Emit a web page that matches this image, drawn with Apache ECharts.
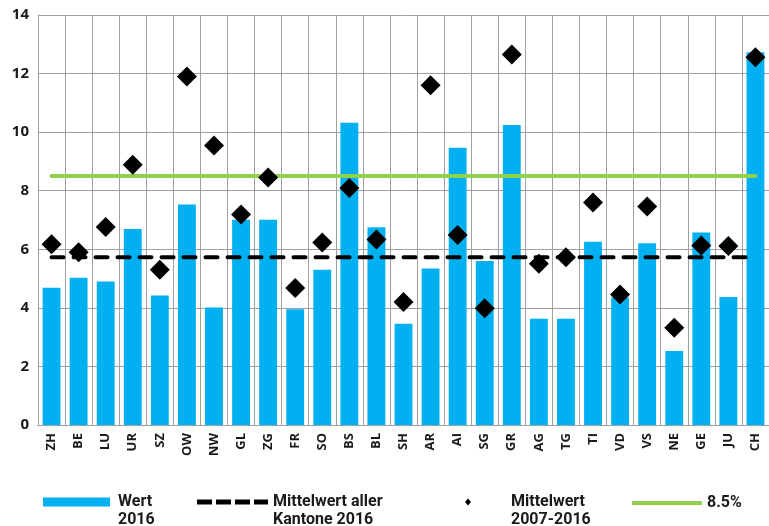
<!DOCTYPE html>
<html>
<head>
<meta charset="utf-8">
<script src="https://cdn.jsdelivr.net/npm/echarts@6/dist/echarts.min.js"></script>
<style>
html,body{margin:0;padding:0;background:#fff;}
#c{width:769px;height:526px;}
</style>
</head>
<body>
<div id="c"></div>
<script>
const categories = ['ZH','BE','LU','UR','SZ','OW','NW','GL','ZG','FR','SO','BS','BL','SH','AR','AI','SG','GR','AG','TG','TI','VD','VS','NE','GE','JU','CH'];
const wert2016 = [4.69,5.03,4.90,6.69,4.42,7.53,4.01,7.01,7.01,3.95,5.30,10.32,6.75,3.46,5.34,9.47,5.60,10.24,3.63,3.63,6.26,4.35,6.21,2.53,6.57,4.37,12.73];
const mittel2007_2016 = [6.17,5.90,6.76,8.89,5.30,11.90,9.54,7.19,8.45,4.68,6.23,8.09,6.33,4.20,11.60,6.49,3.99,12.65,5.51,5.73,7.60,4.46,7.46,3.32,6.13,6.11,12.56];
const mittelAllerKantone2016 = 5.73;
const schwelle = 8.5;
const yTicks = [0,2,4,6,8,10,12,14];

const chart = echarts.init(document.getElementById('c'), null, {renderer:'canvas'});
const legendFont = {fontFamily:'Roboto,sans-serif', fontSize:16, fontWeight:'bold', color:'#1a1a1a', lineHeight:18};
const mkLegend = (name, left, icon, extra) => Object.assign({
  data:[{name:name, icon:icon}], left:left, top:475, padding:0, itemWidth:70, itemHeight:7, itemGap:0,
  textStyle:legendFont, selectedMode:false,
  formatter: n => (n.indexOf('\n') >= 0 ? '\n' + n : n)
}, extra||{});

chart.setOption({
  animation:false,
  backgroundColor:'#fff',
  grid:{left:38, right:-1, top:15, bottom:101, containLabel:false},
  legend:[
    mkLegend('Wert\n2016', 43, 'rect', {itemWidth:67, itemHeight:9, textStyle:Object.assign({}, legendFont, {padding:[0,0,0,3]})}),
    mkLegend('Mittelwert aller\nKantone 2016', 197, 'path://M0,0h15v5h-15z M19,0h15v5h-15z M38,0h15v5h-15z M57,0h14v5h-14z', {itemWidth:71, itemHeight:5}),
    mkLegend('Mittelwert\n2007-2016', 465, 'diamond', {itemWidth:6, itemHeight:7, textStyle:Object.assign({}, legendFont, {padding:[0,0,0,35]})}),
    mkLegend('8.5%', 632, 'rect', {itemHeight:4, top:494})
  ],
  xAxis:{
    type:'category', data:categories, boundaryGap:true,
    axisLine:{show:true, lineStyle:{color:'#a0a0a0', width:1}},
    axisTick:{show:false},
    splitLine:{show:true, lineStyle:{color:'#a0a0a0', width:1}},
    axisLabel:{rotate:90, interval:0, margin:8, fontFamily:'"Open Sans",sans-serif', fontWeight:'bold', fontSize:13, color:'#1a1a1a'}
  },
  yAxis:{
    type:'value', min:yTicks[0], max:yTicks[yTicks.length-1], interval:2,
    axisLine:{show:true, lineStyle:{color:'#a0a0a0', width:1}},
    axisTick:{show:false},
    splitLine:{show:true, lineStyle:{color:'#a0a0a0', width:1}},
    axisLabel:{margin:9, fontFamily:'"Open Sans",sans-serif', fontWeight:'bold', fontSize:15, color:'#1a1a1a'}
  },
  series:[
    {name:'Wert\n2016', type:'bar', data:wert2016, barWidth:'66%', itemStyle:{color:'#00b0f0'}, z:2},
    {name:'Mittelwert aller\nKantone 2016', type:'line', data:categories.map(()=>mittelAllerKantone2016), symbol:'none',
      lineStyle:{color:'#000', width:4, type:[12,10], cap:'round'}, itemStyle:{color:'#000'}, z:3},
    {name:'8.5%', type:'line', data:categories.map(()=>schwelle), symbol:'none',
      lineStyle:{color:'#92d050', width:4, cap:'round'}, itemStyle:{color:'#92d050'}, z:3},
    {name:'Mittelwert\n2007-2016', type:'scatter', data:mittel2007_2016, symbol:'diamond', symbolSize:20,
      itemStyle:{color:'#000', opacity:1}, z:4}
  ]
});
</script>
</body>
</html>
